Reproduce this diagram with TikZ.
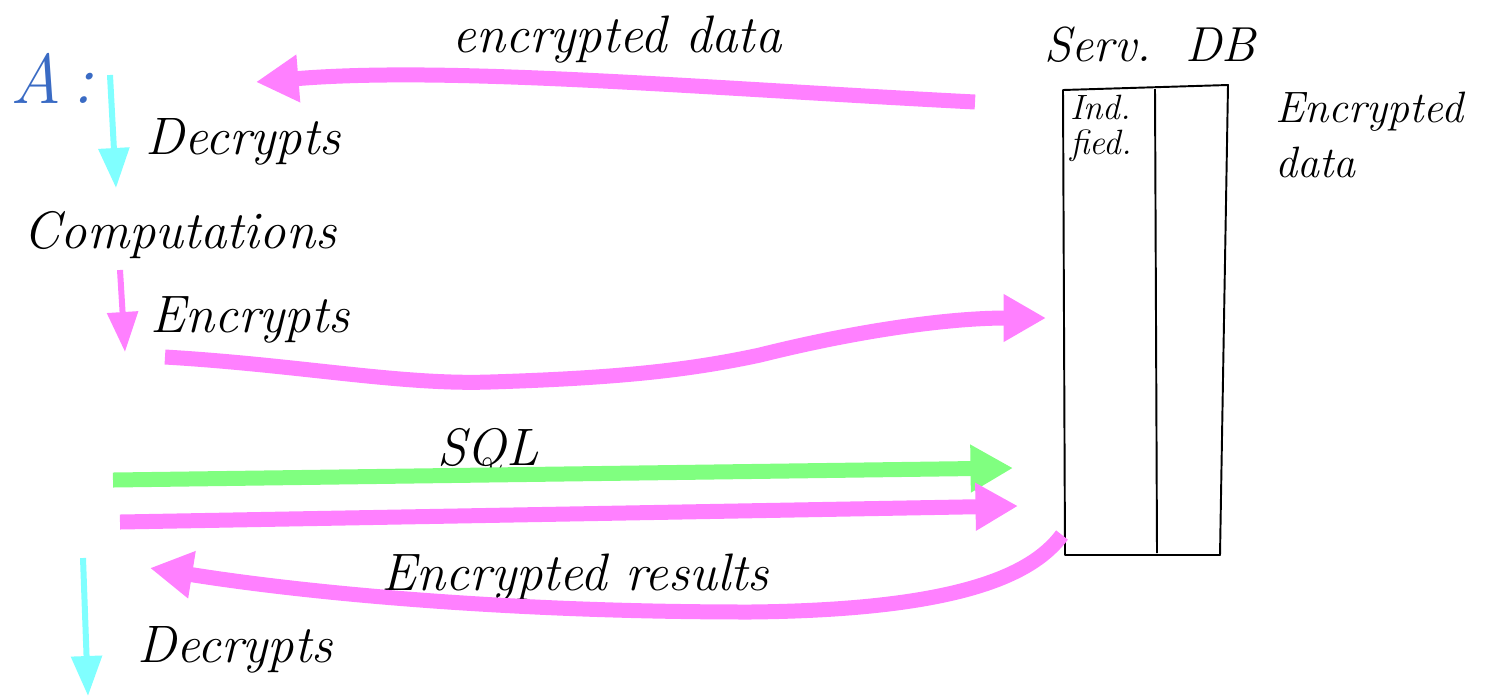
\documentclass[tikz,border=0pt]{standalone}
\usetikzlibrary{arrows.meta}
\definecolor{hlmag}{HTML}{FF80FF}
\definecolor{hlcyan}{HTML}{80FFFF}
\definecolor{hlgreen}{HTML}{80FF80}
\definecolor{penblue}{HTML}{3A6BC4}
\begin{document}
\begin{tikzpicture}[x=0.02cm,y=-0.02cm,
  hand/.style={font=\fontsize{30}{32}\selectfont\itshape, inner sep=0pt},
  bigarrow/.style={line width=0.3cm, line cap=butt,
    -{Triangle[length=0.85cm,width=0.9cm]}},
  smallarrow/.style={line width=0.12cm,
    -{Triangle[length=0.8cm,width=0.6cm]}},
  pen/.style={line width=1.1pt, black, line join=round}]
\useasboundingbox (0,0) rectangle (1491,698);

% texts
\node[hand, font=\fontsize{40}{42}\selectfont\itshape, text=penblue] (A) at (52,78) {A\,:};
\node[hand] (dec1) at (243,142) {Decrypts};
\node[hand] (comp) at (180,235) {Computations};
\node[hand] (enc) at (250,320) {Encrypts};
\node[hand] (encdata) at (617,40) {encrypted data};
\node[hand, font=\fontsize{28}{30}\selectfont\itshape] (serv) at (1150,45) {Serv.~~DB};
\node[hand] (sql) at (488,452) {SQL};
\node[hand] (encres) at (575,578) {Encrypted results};
\node[hand] (dec2) at (235,650) {Decrypts};
\node[hand, font=\fontsize{20}{20}\selectfont\itshape, align=left, anchor=north west] (ind) at (1070,95) {Ind.\\fied.};
\node[hand, font=\fontsize{25}{31}\selectfont\itshape, align=left, anchor=north west] (edata) at (1275,92) {Encrypted\\data};

% database table
\coordinate (tl) at (1063,90);
\coordinate (tr) at (1228,85);
\coordinate (br) at (1220,555);
\coordinate (bl) at (1065,555);
\coordinate (dt) at (1155,89);
\coordinate (db) at (1157,553);
\draw[pen] (tl) -- (tr) -- (br) -- (bl) -- cycle;
\draw[pen] (dt) -- (db);

% connector end points
\coordinate (a1s) at (110,75);  \coordinate (a1e) at (116,188);
\coordinate (a2s) at (120,270); \coordinate (a2e) at (125,352);
\coordinate (a3s) at (83,558);  \coordinate (a3e) at (88,696);
\coordinate (topS) at (975,102); \coordinate (topE) at (256,82);
\coordinate (sqlS) at (113,480); \coordinate (sqlE) at (1013,468);
\coordinate (retS) at (120,522); \coordinate (retE) at (1018,506);
\coordinate (encS) at (165,357); \coordinate (encE) at (1046,318);
\coordinate (resS) at (1062,535); \coordinate (resE) at (150,568);

% vertical arrows
\draw[smallarrow, hlcyan] (a1s) -- (a1e);
\draw[smallarrow, hlmag] (a2s) -- (a2e);
\draw[smallarrow, hlcyan] (a3s) -- (a3e);

% encrypted data (server -> A)
\draw[bigarrow, hlmag] (topS) .. controls (700,88) and (450,66) .. (topE);

% Encrypts -> server
\draw[bigarrow, hlmag] (encS) .. controls (300,365) and (400,385) .. (490,382)
  .. controls (620,378) and (690,370) .. (760,355)
  .. controls (860,330) and (950,318) .. (encE);

% SQL
\draw[bigarrow, hlgreen] (sqlS) -- (sqlE);
\draw[bigarrow, hlmag] (retS) -- (retE);

% Encrypted results (server -> A)
\draw[bigarrow, hlmag] (resS) .. controls (1030,578) and (950,610) .. (750,612)
  .. controls (500,612) and (300,592) .. (resE);
\end{tikzpicture}
\end{document}
